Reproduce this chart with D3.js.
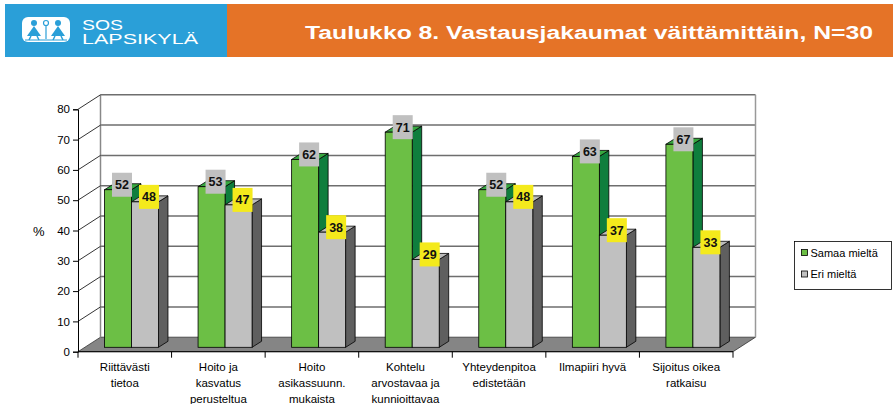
<!DOCTYPE html>
<html>
<head>
<meta charset="utf-8">
<script src="https://cdn.jsdelivr.net/npm/d3@7"></script>
<style>
  body { margin: 0; background: #fff; }
  svg { display: block; font-family: "Liberation Sans", Arial, sans-serif; }
</style>
</head>
<body>
<div id="chart"></div>
<script>
// chart data
const categories = [
  ["Riittävästi", "tietoa"],
  ["Hoito ja", "kasvatus", "perusteltua"],
  ["Hoito", "asikassuunn.", "mukaista"],
  ["Kohtelu", "arvostavaa ja", "kunnioittavaa"],
  ["Yhteydenpitoa", "edistetään"],
  ["Ilmapiiri hyvä"],
  ["Sijoitus oikea", "ratkaisu"]
];
const samaaMielta = [52, 53, 62, 71, 52, 63, 67];
const eriMielta = [48, 47, 38, 29, 48, 37, 33];
const seriesNames = ["Samaa mieltä", "Eri mieltä"];
const yTicks = [0, 10, 20, 30, 40, 50, 60, 70, 80];
const title = "Taulukko 8. Vastausjakaumat väittämittäin, N=30";

const W = 893, H = 404;
const svg = d3.select("#chart").append("svg")
  .attr("width", W)
  .attr("height", H);

// header
svg.append("rect").attr("x", 5).attr("y", 4).attr("width", 222).attr("height", 53).attr("fill", "#2a9fd8");
svg.append("rect").attr("x", 227).attr("y", 4).attr("width", W - 227).attr("height", 53).attr("fill", "#e57327");

// simple logo
const logo = svg.append("g");
logo.append("rect").attr("x", 22).attr("y", 17).attr("width", 48).attr("height", 25).attr("rx", 6).attr("fill", "#fff");
[34, 58].forEach(cx => {
  const c = "#2a9fd8";
  logo.append("circle").attr("cx", cx).attr("cy", 23).attr("r", 3).attr("fill", c);
  logo.append("path").attr("d", `M${cx - 7},36 L${cx},26 L${cx + 7},36 Z`).attr("fill", c);
  logo.append("path").attr("d", `M${cx - 3},36 L${cx - 5},40 M${cx + 3},36 L${cx + 5},40`).attr("stroke", c).attr("stroke-width", 1.5);
});
logo.append("path").attr("d", "M46,39 L46,25").attr("stroke", "#2a9fd8").attr("stroke-width", 1.2);
logo.append("circle").attr("cx", 46).attr("cy", 23).attr("r", 2.5).attr("fill", "none").attr("stroke", "#2a9fd8").attr("stroke-width", 1.2);
logo.append("path").attr("d", "M25,40 L67,40").attr("stroke", "#2a9fd8").attr("stroke-width", 1);

svg.append("text").attr("x", 82).attr("y", 29.5).attr("fill", "#fff")
  .attr("font-size", 14).attr("textLength", 41).attr("lengthAdjust", "spacingAndGlyphs").text("SOS");
svg.append("text").attr("x", 82).attr("y", 44).attr("fill", "#fff")
  .attr("font-size", 14).attr("textLength", 116).attr("lengthAdjust", "spacingAndGlyphs").text("LAPSIKYLÄ");

svg.append("text").attr("x", 305).attr("y", 38.5)
  .attr("fill", "#fff").attr("font-size", 18).attr("font-weight", "bold")
  .attr("textLength", 568).attr("lengthAdjust", "spacingAndGlyphs").text(title);

// 3D geometry
const x0 = 78, x1 = 733;
const wallDx = 22.5, wallDy = 14.5;
const fx = 6.7, fy = -4.4;     // bar front plane offset
const bdx = 9.5, bdy = 6;      // bar depth

const x = d3.scaleBand().domain(d3.range(categories.length)).range([x0, x1]);
const sub = d3.scaleBand().domain([0, 1]).range([0, x.bandwidth()]).paddingOuter(0.733);
const y = d3.scaleLinear().domain([0, 80]).range([351.7, 109.3]);

const g = svg.append("g");

// floor
g.append("path")
  .attr("d", `M${x0},${y(0)} L${x1},${y(0)} L${x1 + wallDx},${y(0) - wallDy} L${x0 + wallDx},${y(0) - wallDy} Z`)
  .attr("fill", "#858585").attr("stroke", "#333").attr("stroke-width", 0.8);

// back wall gridlines
g.selectAll(".grid").data(yTicks.slice(1)).enter().append("line")
  .attr("x1", x0 + wallDx).attr("x2", x1 + wallDx)
  .attr("y1", d => y(d) - wallDy).attr("y2", d => y(d) - wallDy)
  .attr("stroke", "#6e6e6e").attr("stroke-width", 1.5);
// back wall edges
g.append("line").attr("x1", x0 + wallDx).attr("x2", x0 + wallDx)
  .attr("y1", y(80) - wallDy).attr("y2", y(0) - wallDy).attr("stroke", "#888").attr("stroke-width", 1.5);
g.append("line").attr("x1", x1 + wallDx).attr("x2", x1 + wallDx)
  .attr("y1", y(80) - wallDy).attr("y2", y(0) - wallDy).attr("stroke", "#999").attr("stroke-width", 1.5);
// side wall diagonals
g.selectAll(".diag").data(yTicks.slice(1)).enter().append("line")
  .attr("x1", x0).attr("x2", x0 + wallDx)
  .attr("y1", d => y(d)).attr("y2", d => y(d) - wallDy)
  .attr("stroke", "#000").attr("stroke-width", 0.8);

// bars
const fills = [
  { front: "#6cbf45", top: "#37a840", side: "#0f7e3d", label: "#c0c0c0" },
  { front: "#c0c0c0", top: "#bcbcbc", side: "#5f5f5f", label: "#f4ea1c" }
];
const series = [samaaMielta, eriMielta];
const labels = [];

categories.forEach((c, i) => {
  series.forEach((vals, s) => {
    const v = vals[i];
    const bx = x(i) + sub(s) + fx;
    const bw = sub.bandwidth();
    const top = y(v) + fy, bot = y(0) + fy;
    const col = fills[s];
    const bar = g.append("g");
    bar.append("path")
      .attr("d", `M${bx + bw},${top} L${bx + bw + bdx},${top - bdy} L${bx + bw + bdx},${bot - bdy} L${bx + bw},${bot} Z`)
      .attr("fill", col.side).attr("stroke", "#000").attr("stroke-width", 0.8);
    bar.append("path")
      .attr("d", `M${bx},${top} L${bx + bdx},${top - bdy} L${bx + bw + bdx},${top - bdy} L${bx + bw},${top} Z`)
      .attr("fill", col.top).attr("stroke", "#000").attr("stroke-width", 0.8);
    bar.append("rect")
      .attr("x", bx).attr("y", top).attr("width", bw).attr("height", bot - top)
      .attr("fill", col.front).attr("stroke", "#000").attr("stroke-width", 0.8);
    labels.push({ cx: bx + bw / 2 + 4, cy: top - 5, v: v, color: col.label });
  });
});

// value labels
const lab = g.selectAll(".lab").data(labels).enter().append("g");
lab.append("rect")
  .attr("x", d => d.cx - 10).attr("y", d => d.cy - 12)
  .attr("width", 20).attr("height", 24).attr("fill", d => d.color);
lab.append("text")
  .attr("x", d => d.cx).attr("y", d => d.cy + 4.5)
  .attr("text-anchor", "middle").attr("font-size", 12.5).attr("font-weight", "bold")
  .attr("fill", "#111").text(d => d.v);

// y axis
const yAxis = g.append("g").attr("transform", `translate(${x0},0)`)
  .call(d3.axisLeft(y).tickValues(yTicks).tickSize(5).tickPadding(3));
yAxis.select(".domain").attr("stroke", "#000");
yAxis.selectAll("text").attr("font-size", 11.5).attr("fill", "#000")
  .attr("font-family", "'Liberation Sans', Arial, sans-serif");
svg.append("text").attr("x", 33).attr("y", 236).attr("font-size", 13).text("%");

// x axis
const xAxis = g.append("g").attr("transform", `translate(0,${y(0)})`);
xAxis.append("line").attr("x1", x0).attr("x2", x1).attr("stroke", "#000");
xAxis.selectAll(".tk").data(d3.range(categories.length + 1)).enter().append("line")
  .attr("x1", d => x0 + d * x.step()).attr("x2", d => x0 + d * x.step())
  .attr("y1", 0).attr("y2", 6).attr("stroke", "#000");
xAxis.selectAll(".xl").data(categories).enter().append("text")
  .attr("text-anchor", "middle").attr("font-size", 11.5)
  .attr("transform", (d, i) => `translate(${x(i) + x.bandwidth() / 2},0)`)
  .each(function (lines) {
    const t = d3.select(this);
    lines.forEach((ln, k) => t.append("tspan").attr("x", 0).attr("y", 19.5 + k * 16).text(ln));
  });

// legend
const leg = svg.append("g").attr("transform", "translate(794.5,241.5)");
leg.append("rect").attr("width", 97).attr("height", 48).attr("fill", "#fff").attr("stroke", "#000").attr("stroke-width", 0.8);
seriesNames.forEach((n, i) => {
  leg.append("rect").attr("x", 7).attr("y", 8 + i * 21.5).attr("width", 6).attr("height", 6)
    .attr("fill", fills[i].front).attr("stroke", "#000").attr("stroke-width", 0.8);
  leg.append("text").attr("x", 16).attr("y", 15 + i * 21.5).attr("font-size", 11).text(n);
});
</script>
</body>
</html>
